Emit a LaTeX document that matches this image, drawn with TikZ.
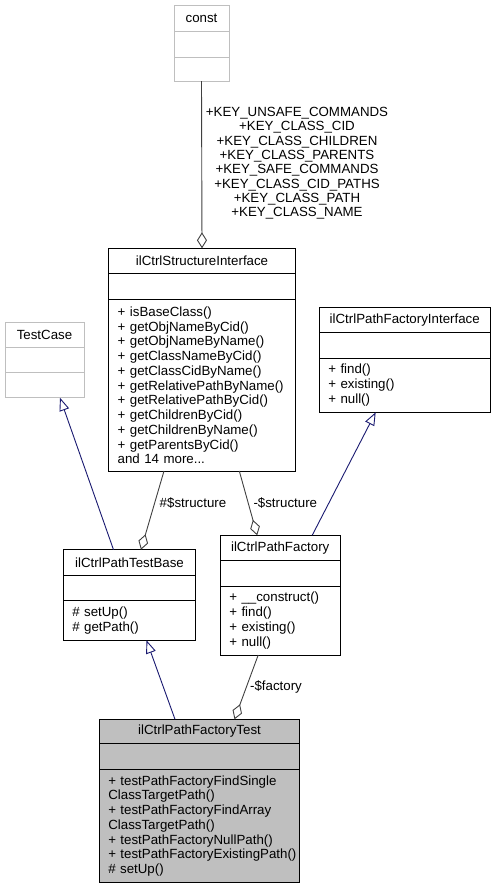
\documentclass[tikz,border=0pt]{standalone}
\usepackage{fontspec}
\setmainfont{Liberation Sans}
\usetikzlibrary{positioning,arrows.meta,calc}
\definecolor{boxgray}{HTML}{BFBFBF}
\definecolor{edgegray}{HTML}{404040}
\definecolor{navy}{HTML}{191970}
\newcommand{\clsfont}{\fontsize{13.3}{14.76}\selectfont\hyphenpenalty=10000 \exhyphenpenalty=10000 }
\tikzset{
  cls/.style={draw=black, line width=1pt, inner sep=0pt, outer sep=0pt, font=\clsfont},
  members/.style={cls, align=left, inner xsep=9pt, text width=#1},
  inherit/.style={draw=navy, line width=0.9pt, -{Triangle[open, length=13pt, width=10pt]}},
  aggr/.style={draw=edgegray, line width=0.9pt, -{Diamond[open, length=16pt, width=10pt]}},
  lbl/.style={inner sep=0pt, font=\fontsize{13.3}{14.3}\selectfont, align=center}
}
\begin{document}
\begin{tikzpicture}[x=1pt,y=-1pt]
    \useasboundingbox (0,0) rectangle (495,889);

    % const
    \node[cls, draw=boxgray, minimum width=55pt, minimum height=26pt] (cst) at (201.5,18) {const};
    \node[cls, draw=boxgray, minimum width=55pt, minimum height=26pt, below=0pt of cst] (cstA) {};
    \node[cls, draw=boxgray, minimum width=55pt, minimum height=24pt, below=0pt of cstA] (cstM) {};

    % ilCtrlStructureInterface
    \node[cls, minimum width=186.6pt, minimum height=25.4pt] (si) at (202,261) {ilCtrlStructureInterface};
    \node[cls, minimum width=186.6pt, minimum height=26pt, below=0pt of si] (siA) {};
    \node[members=168.6pt, minimum height=171.3pt, below=0pt of siA] (siM) {%
      + isBaseClass()\\
      + getObjNameByCid()\\
      + getObjNameByName()\\
      + getClassNameByCid()\\
      + getClassCidByName()\\
      + getRelativePathByName()\\
      + getRelativePathByCid()\\
      + getChildrenByCid()\\
      + getChildrenByName()\\
      + getParentsByCid()\\
      and 14 more...};

    % TestCase
    \node[cls, draw=boxgray, minimum width=79pt, minimum height=25.3pt] (tc) at (44.5,334.7) {TestCase};
    \node[cls, draw=boxgray, minimum width=79pt, minimum height=25.4pt, below=0pt of tc] (tcA) {};
    \node[cls, draw=boxgray, minimum width=79pt, minimum height=25pt, below=0pt of tcA] (tcM) {};

    % ilCtrlPathFactoryInterface
    \node[cls, minimum width=170.7pt, minimum height=25.4pt] (pfi) at (404.7,320) {ilCtrlPathFactoryInterface};
    \node[cls, minimum width=170.7pt, minimum height=25.3pt, below=0pt of pfi] (pfiA) {};
    \node[members=152.7pt, minimum height=54.3pt, below=0pt of pfiA] (pfiM) {%
      + find()\\
      + existing()\\
      + null()};

    % ilCtrlPathTestBase
    \node[cls, minimum width=132.4pt, minimum height=25.6pt] (tb) at (129.5,562.5) {ilCtrlPathTestBase};
    \node[cls, minimum width=132.4pt, minimum height=25.4pt, below=0pt of tb] (tbA) {};
    \node[members=114.4pt, minimum height=39.6pt, below=0pt of tbA] (tbM) {%
      \# setUp()\\
      \# getPath()};

    % ilCtrlPathFactory
    \node[cls, minimum width=119.7pt, minimum height=25pt] (pf) at (280.2,547.8) {ilCtrlPathFactory};
    \node[cls, minimum width=119.7pt, minimum height=25.7pt, below=0pt of pf] (pfA) {};
    \node[members=101.7pt, minimum height=69pt, below=0pt of pfA] (pfM) {%
      + \_\_construct()\\
      + find()\\
      + existing()\\
      + null()};

    % ilCtrlPathFactoryTest
    \node[cls, fill=boxgray, minimum width=200.4pt, minimum height=24pt] (pft) at (199.5,731.3) {ilCtrlPathFactoryTest};
    \node[cls, fill=boxgray, minimum width=200.4pt, minimum height=26pt, below=0pt of pft] (pftA) {};
    \node[members=182.4pt, fill=boxgray, minimum height=113.4pt, below=0pt of pftA] (pftM) {%
      + testPathFactoryFindSingle\\
      ClassTargetPath()\\
      + testPathFactoryFindArray\\
      ClassTargetPath()\\
      + testPathFactoryNullPath()\\
      \mbox{+ testPathFactoryExistingPath()}\\
      \# setUp()};

    % aggregations
    \draw[aggr] (cstM.south) -- (si.north);
    \node[lbl] (lKeys) at (297,163.3) {+KEY\_UNSAFE\_COMMANDS\\+KEY\_CLASS\_CID\\+KEY\_CLASS\_CHILDREN\\+KEY\_CLASS\_PARENTS\\+KEY\_SAFE\_COMMANDS\\+KEY\_CLASS\_CID\_PATHS\\+KEY\_CLASS\_PATH\\+KEY\_CLASS\_NAME};
    \draw[aggr] ([xshift=-38pt]siM.south) -- ([xshift=11.5pt]tb.north);
    \node[lbl] (lStructTB) at (193,502.7) {\#\$structure};
    \draw[aggr] ([xshift=37.3pt]siM.south) -- ([xshift=-23pt]pf.north);
    \node[lbl] (lStructPF) at (285.3,502.7) {-\$structure};
    \draw[aggr] ([xshift=-22pt]pfM.south) -- ([xshift=35pt]pft.north);
    \node[lbl] (lFactory) at (276,686.7) {-\$factory};

    % inheritance
    \draw[inherit] ([xshift=-16pt]tb.north) -- ([xshift=15.5pt]tcM.south);
    \draw[inherit] ([xshift=32pt]pf.north) -- ([xshift=-29pt]pfiM.south);
    \draw[inherit] ([xshift=-24.5pt]pft.north) -- ([xshift=17pt]tbM.south);
\end{tikzpicture}
\end{document}
